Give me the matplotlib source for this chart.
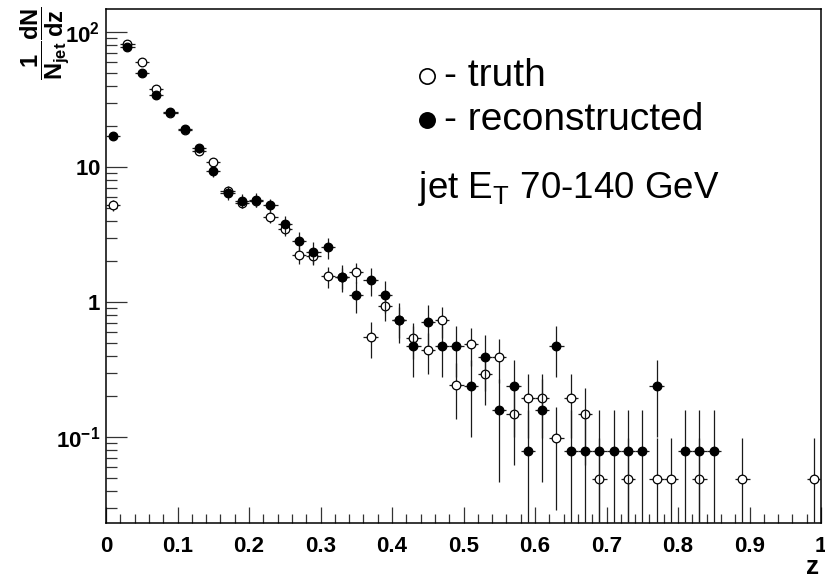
import numpy as np
import matplotlib
matplotlib.use("Agg")
import matplotlib.pyplot as plt
from matplotlib.ticker import FixedLocator, FuncFormatter, MultipleLocator, LogLocator, NullFormatter

plt.rcParams['font.family'] = ['Liberation Sans', 'DejaVu Sans']
plt.rcParams['mathtext.fontset'] = 'custom'
plt.rcParams['mathtext.rm'] = 'Liberation Sans'
plt.rcParams['mathtext.it'] = 'Liberation Sans:italic'
plt.rcParams['mathtext.bf'] = 'Liberation Sans:bold'

nan = np.nan

# Bin edges of the fragmentation variable z (50 bins of width 0.02)
z_edges = np.linspace(0.0, 1.0, 51)

# Normalised per-jet yields, 1/N_jet dN/dz (NaN = empty bin)
truth = [5.2, 82, 60, 38, 25.3, 18.8, 13.2, 10.9, 6.7, 5.45,
         5.6, 4.3, 3.5, 2.23, 2.2, 1.55, 1.52, 1.66, 0.55, 0.94,
         0.73, 0.54, 0.44, 0.735, 0.245, 0.49, 0.294, 0.392, 0.147, 0.196,
         0.196, 0.098, 0.196, 0.147, 0.049, nan, 0.049, nan, 0.049, 0.049,
         nan, 0.049, nan, nan, 0.049, nan, nan, nan, nan, 0.049]
reconstructed = [17, 77, 50, 34, 25.7, 19.0, 13.8, 9.3, 6.4, 5.6,
                 5.7, 5.2, 3.8, 2.85, 2.35, 2.55, 1.54, 1.12, 1.45, 1.13,
                 0.74, 0.474, 0.711, 0.474, 0.474, 0.237, 0.395, 0.158, 0.237, 0.079,
                 0.158, 0.474, 0.079, 0.079, 0.079, 0.079, 0.079, 0.079, 0.237, nan,
                 0.079, 0.079, 0.079, nan, nan, nan, nan, nan, nan, nan]

# Weight of a single entry in each histogram (1 / (N_jet * bin width))
truth_weight = 0.049
reco_weight = 0.079

y_ticks = [0.1, 1, 10, 100]
y_tick_labels = [r'$\mathbf{10^{-1}}$', r'$\mathbf{1}$', r'$\mathbf{10}$', r'$\mathbf{10^{2}}$']

W, H = 825, 580
fig = plt.figure(figsize=(W / 100, H / 100), dpi=100)
ax = fig.add_axes([106 / W, 1 - 523 / H, 715 / W, 514 / H])


def fx(px):
    return px / W


def fy(py):
    return 1 - py / H


centers = 0.5 * (z_edges[:-1] + z_edges[1:])
half = 0.5 * np.diff(z_edges)


def draw(values, weight, filled, zorder):
    v = np.asarray(values, dtype=float)
    ok = ~np.isnan(v)
    err = np.sqrt(v[ok] * weight)
    lo = np.minimum(err, v[ok] - 1e-6)
    ax.errorbar(centers[ok], v[ok], yerr=[lo, err], xerr=half[ok],
                fmt='none', ecolor='#1a1a1a', elinewidth=0.9, capsize=0, zorder=zorder)
    ax.plot(centers[ok], v[ok], ls='none', marker='o', ms=6.2,
            mfc='black' if filled else 'white', mec='black', mew=0.9, zorder=zorder + 0.5)


draw(truth, truth_weight, False, 3)
draw(reconstructed, reco_weight, True, 4)

ax.set_yscale('log')
ax.set_xlim(0, 1)
ax.set_ylim(0.0231, 148)

ax.xaxis.set_major_locator(MultipleLocator(0.1))
ax.xaxis.set_minor_locator(MultipleLocator(0.02))
ax.xaxis.set_major_formatter(FuncFormatter(lambda v, p: f'{v:g}'))
ax.yaxis.set_major_locator(FixedLocator(y_ticks))
ax.yaxis.set_major_formatter(FuncFormatter(lambda v, p: y_tick_labels[y_ticks.index(v)] if v in y_ticks else ''))
ax.yaxis.set_minor_locator(LogLocator(base=10, subs=np.arange(2, 10)))
ax.yaxis.set_minor_formatter(NullFormatter())

ax.tick_params(axis='both', which='both', direction='in', top=False, right=False, color='#333333')
ax.tick_params(axis='x', which='major', length=11.5, width=0.9, pad=9, labelsize=16)
ax.tick_params(axis='x', which='minor', length=6.5, width=0.9)
ax.tick_params(axis='y', which='major', length=15, width=0.9, pad=4, labelsize=16)
ax.tick_params(axis='y', which='minor', length=8, width=0.9)
for lab in ax.get_xticklabels():
    lab.set_fontweight('bold')
for s in ax.spines.values():
    s.set_linewidth(1.1)

# Axis titles
fig.text(fx(813), fy(567), 'z', fontsize=19, fontweight='bold', ha='center', va='center')
fig.text(fx(45), fy(43),
         r'$\dfrac{\mathbf{1}}{\mathbf{N}_{\mathbf{jet}}}\dfrac{\mathbf{dN}}{\mathbf{dz}}$',
         fontsize=17, rotation=90, ha='center', va='center')

# Legend and annotation
fig.add_artist(plt.Line2D([fx(427)], [fy(76)], marker='o', ms=11, mfc='white', mec='black', mew=1.2))
fig.add_artist(plt.Line2D([fx(427)], [fy(120)], marker='o', ms=11, mfc='black', mec='black', mew=1.2))
fig.text(fx(444), fy(76), '- truth', fontsize=28, ha='left', va='center')
fig.text(fx(444), fy(120), '- reconstructed', fontsize=28, ha='left', va='center')
fig.text(fx(418), fy(188), r'jet E$_{\mathrm{T}}$ 70-140 GeV', fontsize=26.5, ha='left', va='center')

fig.savefig('out.png', dpi=100, facecolor='white')
